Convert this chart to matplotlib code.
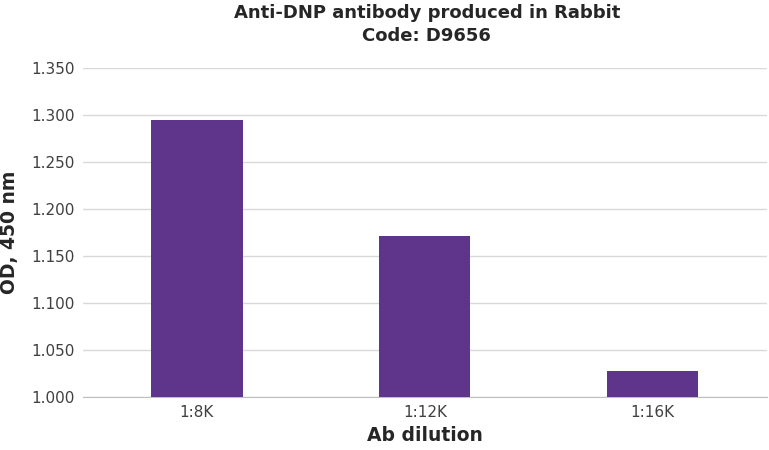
import matplotlib.pyplot as plt
from matplotlib.ticker import FormatStrFormatter

# data
dilutions = ["1:8K", "1:12K", "1:16K"]
od_values = [1.295, 1.171, 1.028]
y_ticks = [1.000, 1.050, 1.100, 1.150, 1.200, 1.250, 1.300, 1.350]

fig = plt.figure(figsize=(7.69, 4.5), dpi=100)
ax = fig.add_axes([0.108, 0.118, 0.889, 0.731])

ax.bar(range(len(dilutions)), od_values, width=0.4, color="#5E358A", zorder=3)

ax.set_xlim(-0.5, len(dilutions) - 0.5)
ax.set_ylim(1.0, 1.35)
ax.set_yticks(y_ticks)
ax.yaxis.set_major_formatter(FormatStrFormatter("%.3f"))
ax.set_xticks(range(len(dilutions)))
ax.set_xticklabels(dilutions)
ax.grid(axis="y", color="#d9d9d9", linewidth=1, zorder=0)

for s in ["top", "right", "left"]:
    ax.spines[s].set_visible(False)
ax.spines["bottom"].set_color("#bfbfbf")
ax.tick_params(axis="both", length=0, labelsize=11, colors="#404040", pad=6)

ax.set_xlabel("Ab dilution", fontsize=13.5, fontweight="bold", color="#262626", labelpad=4)
ax.set_ylabel("OD, 450 nm", fontsize=13.5, fontweight="bold", color="#262626", labelpad=9)
fig.suptitle("Anti-DNP antibody produced in Rabbit\nCode: D9656", fontsize=13,
             fontweight="bold", color="#262626", x=0.555, y=0.99, linespacing=1.35)

fig.savefig("out.png", dpi=100)
